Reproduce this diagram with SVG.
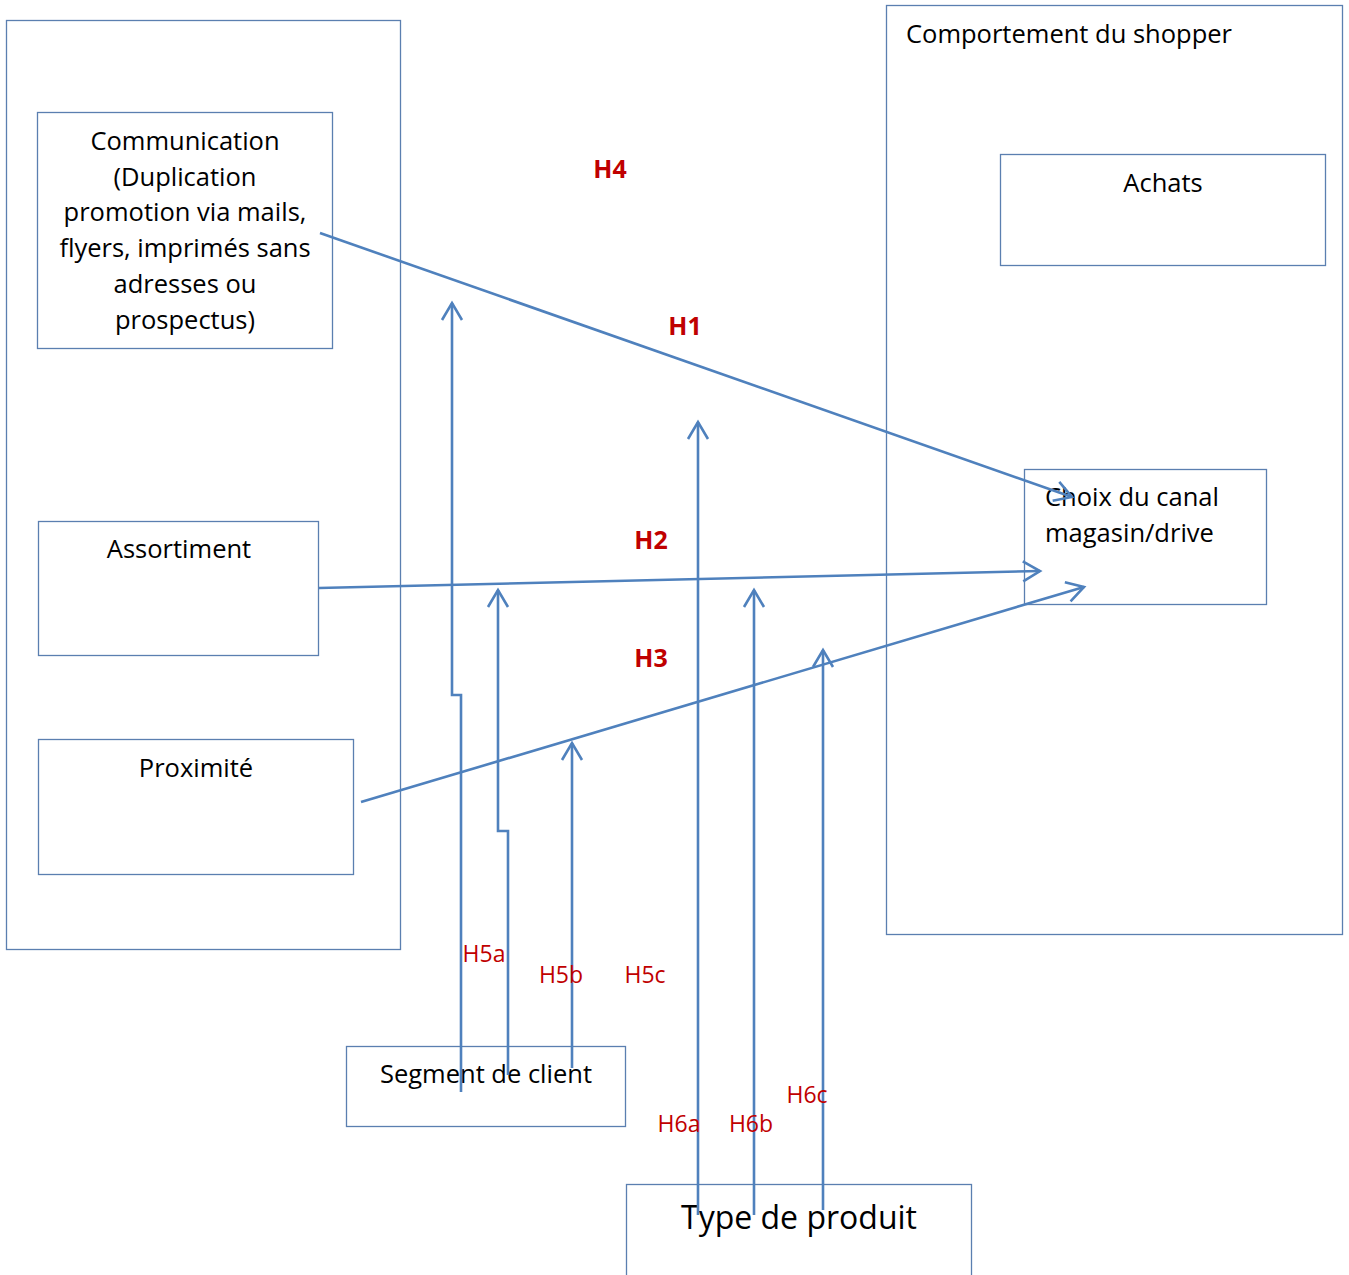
<svg xmlns="http://www.w3.org/2000/svg" width="1349" height="1275" viewBox="0 0 1349 1275">
<style>
.box{fill:#fff;stroke:#5b7fb0;stroke-width:1.3}
.t{font-family:"Open Sans","Liberation Sans",sans-serif;font-size:25.5px;fill:#000}
.c{text-anchor:middle}
.hb{font-family:"Open Sans","Liberation Sans",sans-serif;font-size:25px;font-weight:bold;fill:#C00000;text-anchor:middle}
.h{font-family:"Open Sans","Liberation Sans",sans-serif;font-size:23px;fill:#C00000;text-anchor:middle}
.conn{fill:none;stroke:#4F81BD;stroke-width:2.6}
</style>
<defs>
<marker id="arr" markerUnits="userSpaceOnUse" markerWidth="30" markerHeight="30" viewBox="-20 -15 25 30" refX="0" refY="0" orient="auto">
<path d="M-17,-10 L0,0 L-17,10" fill="none" stroke="#4F81BD" stroke-width="2.6"/>
</marker>
</defs>
<rect width="1349" height="1275" fill="#fff"/>
<g id="left-frame"><rect class="box" x="6.5" y="20.5" width="394" height="929"/></g>
<g id="right-frame"><rect class="box" x="886.5" y="5.5" width="456" height="929"/>
<text class="t" x="906" y="43">Comportement du shopper</text></g>
<g id="communication"><rect class="box" x="37.5" y="112.5" width="295" height="236"/>
<text class="t c" x="185" y="150">Communication</text>
<text class="t c" x="185" y="186">(Duplication</text>
<text class="t c" x="185" y="221">promotion via mails,</text>
<text class="t c" x="185" y="257">flyers, imprimés sans</text>
<text class="t c" x="185" y="293">adresses ou</text>
<text class="t c" x="185" y="329">prospectus)</text></g>
<g id="assortiment"><rect class="box" x="38.5" y="521.5" width="280" height="134"/>
<text class="t c" x="179" y="558">Assortiment</text></g>
<g id="proximite"><rect class="box" x="38.5" y="739.5" width="315" height="135"/>
<text class="t c" x="196" y="777">Proximité</text></g>
<g id="achats"><rect class="box" x="1000.5" y="154.5" width="325" height="111"/>
<text class="t c" x="1163" y="192">Achats</text></g>
<g id="choix"><rect class="box" x="1024.5" y="469.5" width="242" height="135"/>
<text class="t" x="1045" y="506">Choix du canal</text>
<text class="t" x="1045" y="542">magasin/drive</text></g>
<g id="segment"><rect class="box" x="346.5" y="1046.5" width="279" height="80"/>
<text class="t c" x="486" y="1083">Segment de client</text></g>
<g id="type-produit"><rect class="box" x="626.5" y="1184.5" width="345" height="120"/>
<text class="t c" x="799" y="1229" style="font-size:32px">Type de produit</text></g>
<g id="connectors">
<line class="conn" x1="320" y1="233" x2="1072" y2="497" marker-end="url(#arr)"/>
<line class="conn" x1="319" y1="588" x2="1040" y2="571" marker-end="url(#arr)"/>
<line class="conn" x1="361" y1="802" x2="1084" y2="587" marker-end="url(#arr)"/>
<polyline class="conn" points="461,1092 461,695 452,695 452,303" marker-end="url(#arr)"/>
<polyline class="conn" points="508,1075 508,831 498,831 498,590" marker-end="url(#arr)"/>
<line class="conn" x1="572" y1="1068" x2="572" y2="743" marker-end="url(#arr)"/>
<line class="conn" x1="698" y1="1215" x2="698" y2="422" marker-end="url(#arr)"/>
<line class="conn" x1="754" y1="1215" x2="754" y2="590" marker-end="url(#arr)"/>
<line class="conn" x1="823" y1="1210" x2="823" y2="650" marker-end="url(#arr)"/>
</g>
<g id="labels">
<text class="hb" x="610" y="178">H4</text>
<text class="hb" x="685" y="335">H1</text>
<text class="hb" x="651" y="549">H2</text>
<text class="hb" x="651" y="667">H3</text>
<text class="h" x="484" y="962">H5a</text>
<text class="h" x="561" y="983">H5b</text>
<text class="h" x="645" y="983">H5c</text>
<text class="h" x="679" y="1132">H6a</text>
<text class="h" x="751" y="1132">H6b</text>
<text class="h" x="807" y="1103">H6c</text>
</g>
</svg>
